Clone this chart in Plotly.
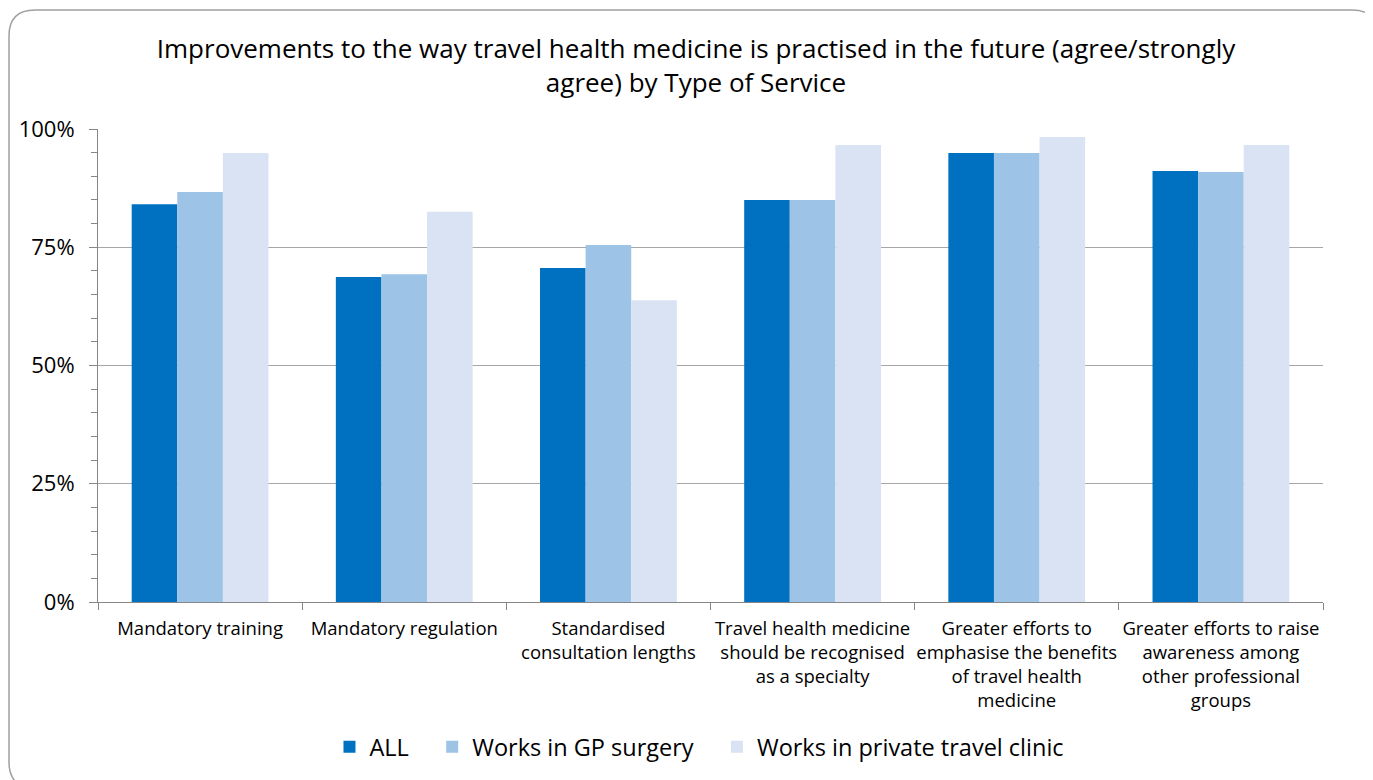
import plotly.graph_objects as go

categories = [
    "Mandatory training",
    "Mandatory regulation",
    "Standardised<br>consultation lengths",
    "Travel health medicine<br>should be recognised<br>as a specialty",
    "Greater efforts to<br>emphasise the benefits<br>of travel health<br>medicine",
    "Greater efforts to raise<br>awareness among<br>other professional<br>groups",
]
all_vals = [84.1, 68.7, 70.6, 85.0, 94.9, 91.1]
gp_vals = [86.7, 69.3, 75.5, 85.0, 94.9, 90.9]
private_vals = [94.9, 82.5, 63.8, 96.6, 98.3, 96.6]
series_names = ["ALL", "Works in GP surgery", "Works in private travel clinic"]
series_colors = ["#0070C0", "#9DC3E6", "#DAE3F3"]

# page body has an 8px margin, so the figure is a bit smaller than the window
W, H = 1365, 772
ML, MR, MT, MB = 90, 50, 121, 178
PW, PH = W - ML - MR, H - MT - MB

fig = go.Figure()
pad = ["\u00a0" * 3, "\u00a0" * 3, ""]  # extra room between legend items
for name, vals, col, p in zip(series_names, [all_vals, gp_vals, private_vals], series_colors, pad):
    fig.add_trace(go.Bar(x=categories, y=vals, name=name + p,
                         marker=dict(color=col, line=dict(width=0))))


def P(x, y):
    a, b = (x - ML) / PW, (H - MB - y) / PH
    return f"{a:.5f},{b:.5f}"


# rounded frame around the chart (right and bottom sides fall outside the page)
x0, y0, x1, y1, r = 1, 2, 1370, 780, 26
path = (f"M {P(x0 + r, y0)} L {P(x1 - r, y0)} Q {P(x1, y0)} {P(x1, y0 + r)} "
        f"L {P(x1, y1 - r)} Q {P(x1, y1)} {P(x1 - r, y1)} "
        f"L {P(x0 + r, y1)} Q {P(x0, y1)} {P(x0, y1 - r)} "
        f"L {P(x0, y0 + r)} Q {P(x0, y0)} {P(x0 + r, y0)} Z")
fig.add_shape(type="path", path=path, xref="paper", yref="paper",
              line=dict(color="#A0A0A0", width=1.5), layer="below")

fig.update_layout(
    width=W, height=H,
    margin=dict(l=ML, r=MR, t=MT, b=MB, autoexpand=False),
    paper_bgcolor="white", plot_bgcolor="white",
    font=dict(family="Open Sans, Lato, sans-serif", color="#000000"),
    title=dict(
        text="Improvements to the way travel health medicine is practised in the future (agree/strongly<br>agree) by Type of Service",
        x=(696 - 8) / W, xanchor="center", yref="container", y=1 - 50 / H, yanchor="top",
        font=dict(size=26),
    ),
    barmode="group", bargap=0.33, bargroupgap=0,
    showlegend=True,
    legend=dict(orientation="h", x=0.491, xanchor="center", y=(H - MB - 739) / PH,
                yanchor="middle", font=dict(size=23.5), itemwidth=30, traceorder="normal"),
)
fig.update_xaxes(
    showline=True, linecolor="#868686", linewidth=1,
    ticks="outside", ticklen=7, tickcolor="#868686", tickson="boundaries",
    tickfont=dict(size=18.5), showgrid=False, ticklabelstandoff=10,
    tickangle=0, automargin=False,
)
fig.update_yaxes(
    range=[0, 100], tickvals=[0, 25, 50, 75, 100],
    ticktext=["0%", "25%", "50%", "75%", "100%"],
    showline=True, linecolor="#868686", linewidth=1,
    ticks="outside", ticklen=8, tickcolor="#868686",
    showgrid=True, gridcolor="#A6A6A6", gridwidth=1,
    tickfont=dict(size=22), zeroline=False, ticklabelstandoff=10, automargin=False,
    minor=dict(dtick=5, ticks="outside", ticklen=6, tickcolor="#868686", showgrid=False),
)

fig.write_html("out.html")
